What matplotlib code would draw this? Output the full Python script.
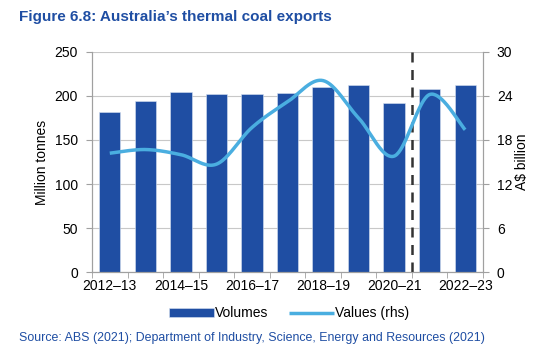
"""Australia's thermal coal exports: volumes (bars) and values (smoothed line, rhs)."""

import numpy as np
import matplotlib
matplotlib.use("Agg")
import matplotlib.pyplot as plt

plt.rcParams["font.family"] = ["Liberation Sans", "DejaVu Sans"]

years = ["2012–13", "2013–14", "2014–15", "2015–16", "2016–17", "2017–18",
         "2018–19", "2019–20", "2020–21", "2021–22", "2022–23"]
volumes = [181.8, 194.7, 204.9, 201.9, 202.3, 203.0, 209.9, 212.9, 192.0, 208.3, 212.1]
values = [16.2, 16.7, 16.0, 14.7, 19.7, 23.2, 26.1, 21.0, 15.8, 24.2, 19.4]

BAR_COLOR = "#1f4ea3"
LINE_COLOR = "#4aaee0"
TEXT_BLUE = "#1f4ea3"
GRID = "#c8c8c8"


def smooth(xs, ys, n=40):
    # Excel-style smoothed line: cubic Bezier through points, Catmull-Rom control points
    xs = np.asarray(xs, float)
    ys = np.asarray(ys, float)
    px = np.concatenate([[xs[0]], xs, [xs[-1]]])
    py = np.concatenate([[ys[0]], ys, [ys[-1]]])
    out_x, out_y = [], []
    t = np.linspace(0, 1, n)
    for i in range(1, len(px) - 2):
        p0 = np.array([px[i], py[i]])
        p3 = np.array([px[i + 1], py[i + 1]])
        c1 = p0 + (np.array([px[i + 1], py[i + 1]]) - np.array([px[i - 1], py[i - 1]])) / 6
        c2 = p3 - (np.array([px[i + 2], py[i + 2]]) - np.array([px[i], py[i]])) / 6
        pts = ((1 - t) ** 3)[:, None] * p0 + (3 * (1 - t) ** 2 * t)[:, None] * c1 \
            + (3 * (1 - t) * t ** 2)[:, None] * c2 + (t ** 3)[:, None] * p3
        out_x.extend(pts[:, 0])
        out_y.extend(pts[:, 1])
    return out_x, out_y


fig = plt.figure(figsize=(5.46, 3.6), dpi=100)
ax = fig.add_axes([0.1685, 0.2444, 0.716, 0.6112])
x = np.arange(len(years))

ax.bar(x, volumes, width=0.6, color=BAR_COLOR, edgecolor="#d9e3f2", linewidth=0.4,
       zorder=2, label="Volumes")
ax.set_xlim(-0.5, len(years) - 0.5)
ax.set_ylim(0, 250)
ax.set_yticks(range(0, 251, 50))
ax.grid(axis="y", color=GRID, linewidth=0.8, zorder=0)
ax.set_axisbelow(True)
ax.set_ylabel("Million tonnes", fontsize=10, labelpad=4)

ax.set_xticks(x[::2])
ax.set_xticklabels(years[::2], fontsize=10)
ax.set_xticks(np.arange(-0.5, len(years), 1), minor=True)
ax.tick_params(axis="x", which="major", length=0, pad=5)
ax.tick_params(axis="x", which="minor", length=4, color="#a0a0a0", direction="out")
ax.tick_params(axis="y", length=4, color="#a0a0a0", labelsize=10, pad=6)

ax.spines["top"].set_visible(False)
for side in ["left", "right", "bottom"]:
    ax.spines[side].set_color("#a0a0a0")

ax.axvline(8.5, color="#333333", linestyle=(0, (4, 3)), linewidth=1.8, zorder=4)

ax2 = ax.twinx()
sx, sy = smooth(x, values)
ax2.plot(sx, sy, color=LINE_COLOR, linewidth=2.5, solid_capstyle="butt", zorder=3,
         label="Values (rhs)")
ax2.set_ylim(0, 30)
ax2.set_yticks(range(0, 31, 6))
ax2.tick_params(axis="y", length=4, color="#a0a0a0", labelsize=10, pad=6)
ax2.set_ylabel("A$ billion", fontsize=10, labelpad=2)
ax2.spines["top"].set_visible(False)
for side in ["left", "right", "bottom"]:
    ax2.spines[side].set_color("#a0a0a0")

h1, l1 = ax.get_legend_handles_labels()
h2, l2 = ax2.get_legend_handles_labels()
fig.legend(h1 + h2, l1 + l2, loc="center", bbox_to_anchor=(0.53, 0.13), ncol=2,
           frameon=False, fontsize=10, handlelength=3.2, handleheight=0.6,
           columnspacing=1.5, handletextpad=0.1)

fig.text(0.034, 0.952, "Figure 6.8: Australia’s thermal coal exports", fontsize=11,
         fontweight="bold", color=TEXT_BLUE, ha="left", va="center")
fig.text(0.034, 0.06, "Source: ABS (2021); Department of Industry, Science, Energy and Resources (2021)",
         fontsize=8.9, color=TEXT_BLUE, ha="left", va="center")

fig.savefig("out.png", dpi=100)
